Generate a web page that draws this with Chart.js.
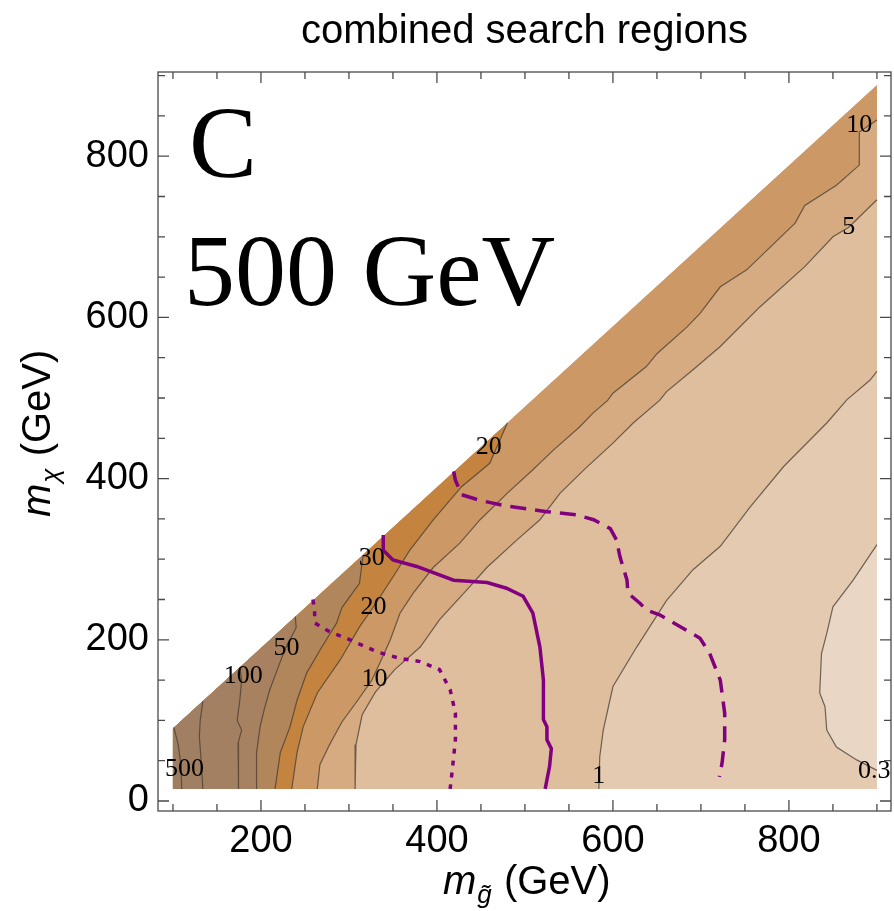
<!DOCTYPE html>
<html>
<head>
<meta charset="utf-8">
<title>combined search regions</title>
<script src="https://cdn.jsdelivr.net/npm/chart.js@4.4.1/dist/chart.umd.min.js"></script>
<style>
	html, body { margin: 0; padding: 0; background: #fff; }
</style>
</head>
<body>
<canvas id="plot" width="894" height="911"></canvas>
<script>
// axis ranges and ticks
const xRange = [83, 916];
const yRange = [-12.4, 904.5];
const xTickValues = [200, 400, 600, 800];
const yTickValues = [0, 200, 400, 600, 800];

// edge of the scanned region (m_gluino, m_chi)
const edgeLeft = [100, 90];
const edgeRight = [900, 888];
const chiFloor = 15;

// contour lines, from the upper/right boundary down to the floor
const line0p3 = [[900, 318], [873, 274], [850, 241], [843, 208], [837, 183], [835, 134], [841, 117], [843, 88], [854, 67], [877, 51], [900, 38]];
const line1 = [[900, 533], [892, 522], [866, 498], [843, 469], [794, 415], [756, 365], [722, 316], [691, 287], [661, 249], [627, 191], [600, 142], [589, 88], [585, 55], [584, 15]];
const line5 = [[900, 746], [868, 712], [850, 700], [818, 663], [767, 613], [722, 564], [691, 535], [661, 508], [653, 497], [623, 469], [600, 444], [570, 414], [540, 382], [517, 349], [491, 324], [457, 290], [434, 262], [403, 225], [381, 191], [352, 163], [330, 135], [315, 107], [308, 70], [307, 15]];
const line10 = [[900, 845], [880, 830], [880, 789], [854, 764], [818, 739], [807, 717], [752, 659], [722, 638], [699, 605], [684, 588], [650, 555], [638, 539], [600, 506], [594, 497], [577, 481], [562, 464], [532, 435], [509, 411], [480, 382], [449, 349], [426, 320], [396, 290], [373, 258], [358, 233], [347, 200], [335, 171], [326, 150], [310, 125], [292, 98], [278, 70], [267, 45], [264, 15]];
const line20 = [[480, 469], [460, 419], [428, 390], [396, 349], [369, 311], [350, 278], [328, 241], [312, 216], [290, 175], [264, 134], [248, 92], [241, 60], [235, 15]];
const line30 = [[316, 305], [312, 270], [292, 240], [286, 221], [267, 187], [252, 159], [241, 125], [233, 92], [222, 60], [216, 15]];
const line50 = [[239, 229], [240, 215], [228, 190], [220, 167], [210, 138], [204, 115], [199, 92], [195, 60], [195, 15]];
const line100 = [[176, 166], [178, 150], [176, 125], [173, 100], [178, 88], [174, 72], [175, 43], [174, 15]];
const line200 = [[134, 124], [131, 100], [130, 80], [132, 50], [134, 15]];
const line500 = [[101, 91], [106, 70], [109, 45], [110, 15]];

// limit curves
const limitSolid = [[339, 330], [339, 311], [350, 299], [377, 291], [419, 274], [457, 271], [479, 264], [498, 254], [509, 233], [517, 191], [521, 150], [521, 101], [525, 92], [525, 76], [530, 65], [528, 43], [523, 15]];
const limitDashed = [[419, 409], [421, 398], [428, 380], [449, 373], [479, 366], [525, 359], [559, 355], [578, 349], [597, 338], [604, 324], [608, 303], [616, 274], [617, 258], [631, 245], [638, 237], [653, 231], [680, 214], [699, 202], [710, 183], [722, 150], [727, 109], [727, 76], [724, 47], [721, 30]];
const limitDotted = [[259, 250], [261, 237], [261, 221], [278, 210], [297, 202], [332, 185], [358, 177], [381, 173], [403, 163], [415, 138], [421, 109], [421, 76], [417, 34], [415, 15]];

// contour labels
const labelText = ["10", "5", "20", "30", "20", "50", "100", "10", "500", "1", "0.3"];
const labelX = [880, 868, 459, 326, 328, 229, 180, 329, 113, 584, 897];
const labelY = [838, 712, 439, 301, 240, 190, 155, 151, 40, 31, 37];

// fill colours, lowest band first
const bandColors = ["#E9D6C5", "#E4CAB0", "#DFBE9E", "#D6AB81", "#CC9966", "#C4843F", "#B1865A", "#A88260", "#A48062", "#A17F62", "#9E7E63"];
const contourColor = "rgba(70, 60, 50, 0.75)";
const limitColor = "#800080";

const pts = (line) => line.map(([x, y]) => ({ x, y }));

// region above a contour: the line, then round the left/top boundary
function regionOf(line) {
	const out = pts(line);
	const first = line[0];
	const last = line[line.length - 1];
	if (last[0] === edgeRight[0]) out.push({ x: edgeRight[0], y: chiFloor });
	out.push({ x: edgeLeft[0], y: chiFloor }, { x: edgeLeft[0], y: edgeLeft[1] });
	if (first[0] === edgeRight[0]) out.push({ x: edgeRight[0], y: edgeRight[1] });
	return out;
}

const contours = [line0p3, line1, line5, line10, line20, line30, line50, line100, line200, line500];

const limitSets = [
	{ data: pts(limitSolid), borderColor: limitColor, borderWidth: 3.5 },
	{ data: pts(limitDashed), borderColor: limitColor, borderWidth: 3.5, borderDash: [16, 9] },
	{ data: pts(limitDotted), borderColor: limitColor, borderWidth: 3.5, borderDash: [5, 7] },
];
const lineSets = contours.map((line) => ({
	data: pts(line),
	borderColor: contourColor,
	borderWidth: 1.2,
}));
const regionSets = contours
	.map((line, i) => ({
		data: regionOf(line),
		fill: "shape",
		backgroundColor: bandColors[i + 1],
		borderColor: "transparent",
		borderWidth: 0,
	}))
	.reverse();
const baseSet = {
	data: [
		{ x: edgeLeft[0], y: chiFloor },
		{ x: edgeRight[0], y: chiFloor },
		{ x: edgeRight[0], y: edgeRight[1] },
		{ x: edgeLeft[0], y: edgeLeft[1] },
	],
	fill: "shape",
	backgroundColor: bandColors[0],
	borderColor: "transparent",
	borderWidth: 0,
};

// mass label: italic m, small subscript, then (GeV)
function massLabel(ctx, sub) {
	ctx.textAlign = "left";
	ctx.textBaseline = "alphabetic";
	ctx.font = "italic 40px 'Liberation Sans'";
	ctx.fillText("m", 0, 0);
	let w = ctx.measureText("m").width;
	ctx.font = "italic 26px 'Liberation Sans'";
	ctx.fillText(sub, w + 1, 9);
	w += ctx.measureText(sub).width + 2;
	ctx.font = "40px 'Liberation Sans'";
	ctx.fillText(" (GeV)", w, 0);
}

const framePlugin = {
	id: "frame",
	afterDatasetsDraw(chart) {
		const { ctx, scales } = chart;
		ctx.save();
		ctx.fillStyle = "#000";
		ctx.textAlign = "center";
		ctx.textBaseline = "middle";
		ctx.font = "26px 'Liberation Serif'";
		labelText.forEach((t, i) => {
			ctx.fillText(t, scales.x.getPixelForValue(labelX[i]), scales.y.getPixelForValue(labelY[i]));
		});
		ctx.restore();
	},
	afterDraw(chart) {
		const { ctx, chartArea: a, scales } = chart;
		const x = scales.x;
		const y = scales.y;
		ctx.save();
		ctx.strokeStyle = "#4a4a4a";
		ctx.lineWidth = 1.3;
		ctx.strokeRect(a.left, a.top, a.right - a.left, a.bottom - a.top);
		ctx.beginPath();
		for (let v = 100; v <= 900; v += 50) {
			const px = x.getPixelForValue(v);
			const len = v % 200 === 0 ? 11 : 7;
			ctx.moveTo(px, a.bottom);
			ctx.lineTo(px, a.bottom - len);
			ctx.moveTo(px, a.top);
			ctx.lineTo(px, a.top + len);
		}
		for (let v = 0; v <= 900; v += 50) {
			const py = y.getPixelForValue(v);
			const len = v % 200 === 0 ? 11 : 7;
			ctx.moveTo(a.left, py);
			ctx.lineTo(a.left + len, py);
			ctx.moveTo(a.right, py);
			ctx.lineTo(a.right - len, py);
		}
		ctx.stroke();

		ctx.fillStyle = "#000";
		ctx.textAlign = "left";
		ctx.textBaseline = "alphabetic";
		ctx.font = "102px 'Liberation Serif'";
		ctx.fillText("C", 189, 177);
		ctx.fillText("500 GeV", 184, 305);

		ctx.save();
		ctx.translate(443, 894);
		massLabel(ctx, "g\u0303");
		ctx.restore();

		ctx.save();
		ctx.translate(50, 517);
		ctx.rotate(-Math.PI / 2);
		massLabel(ctx, "\u03C7");
		ctx.restore();
		ctx.restore();
	},
};

const tickFont = { family: "'Liberation Sans'", size: 38 };

new Chart(document.getElementById("plot"), {
	type: "line",
	data: {
		datasets: [...limitSets, ...lineSets, ...regionSets, baseSet],
	},
	options: {
		responsive: false,
		animation: false,
		events: [],
		elements: {
			point: { radius: 0 },
			line: { tension: 0, fill: false },
		},
		layout: { padding: { top: 0, right: 3, bottom: 0, left: 0 } },
		plugins: {
			legend: { display: false },
			tooltip: { enabled: false },
			title: {
				display: true,
				text: "combined search regions",
				fullSize: false,
				color: "#000",
				font: { family: "'Liberation Sans'", size: 40, weight: "normal" },
				padding: { top: 8, bottom: 16 },
			},
		},
		scales: {
			x: {
				type: "linear",
				min: xRange[0],
				max: xRange[1],
				grid: { display: false, drawTicks: false },
				border: { display: false },
				afterBuildTicks: (scale) => {
					scale.ticks = xTickValues.map((value) => ({ value }));
				},
				afterFit: (scale) => {
					scale.height = 100;
				},
				ticks: { font: tickFont, color: "#000", padding: 8, maxRotation: 0 },
			},
			y: {
				type: "linear",
				min: yRange[0],
				max: yRange[1],
				grid: { display: false, drawTicks: false },
				border: { display: false },
				afterBuildTicks: (scale) => {
					scale.ticks = yTickValues.map((value) => ({ value }));
				},
				afterFit: (scale) => {
					scale.width = 158;
				},
				ticks: { font: tickFont, color: "#000", padding: 9 },
			},
		},
	},
	plugins: [framePlugin],
});
</script>
</body>
</html>
